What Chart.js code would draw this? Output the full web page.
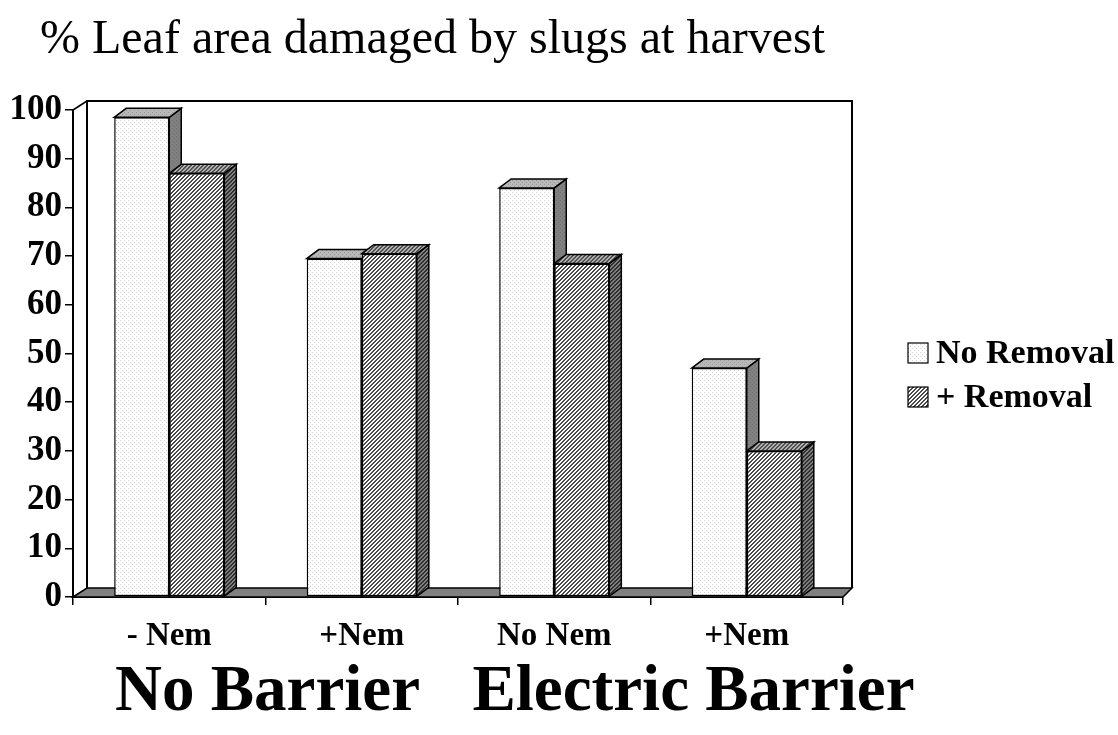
<!DOCTYPE html>
<html>
<head>
<meta charset="utf-8">
<script src="https://cdn.jsdelivr.net/npm/chart.js@4/dist/chart.umd.min.js"></script>
<style>
html,body{margin:0;padding:0;background:#fff;}
canvas{display:block;}
</style>
</head>
<body>
<canvas id="c" width="1118" height="735"></canvas>
<script>
// ---- data ----
const categories = ['- Nem', '+Nem', 'No Nem', '+Nem'];
const seriesNames = ['No Removal', '+ Removal'];
const noRemoval = [98.5, 69.5, 84, 47];
const plusRemoval = [87, 70.5, 68.5, 30];
const groupLabels = ['No Barrier', 'Electric Barrier'];
const yTicks = [0, 10, 20, 30, 40, 50, 60, 70, 80, 90, 100];
const titleText = '% Leaf area damaged by slugs at harvest';

const SERIF = '"Liberation Serif", "Times New Roman", serif';

const ctx0 = document.getElementById('c').getContext('2d');
function pat(bg, fg, kind) {
  const t = document.createElement('canvas');
  t.width = 4; t.height = 4;
  const c = t.getContext('2d');
  c.fillStyle = bg; c.fillRect(0, 0, 4, 4);
  c.fillStyle = fg;
  if (kind === 'dots') {
    c.fillRect(0, 0, 1, 1); c.fillRect(2, 2, 1, 1);
  } else {
    for (let i = 0; i < 4; i++) {
      c.fillRect(i, 3 - i, 1, 1);
      c.fillRect(i, (4 - i) % 4, 1, 1);
    }
  }
  return ctx0.createPattern(t, 'repeat');
}
const styles = [
  { front: pat('#ffffff', '#cfcfcf', 'dots'), top: pat('#b8b8b8', '#9a9a9a', 'dots'), side: pat('#808080', '#707070', 'dots') },
  { front: pat('#ffffff', '#4a4a4a', 'hatch'), top: pat('#b0b0b0', '#505050', 'hatch'), side: pat('#808080', '#303030', 'hatch') }
];

const DX = 12, DY = -9;

const threeD = {
  id: 'threeD',
  beforeDatasetsDraw(chart) {
    const ctx = chart.ctx;
    const a = chart.chartArea;
    ctx.save();
    // back wall
    ctx.strokeStyle = '#000';
    ctx.lineWidth = 2;
    ctx.beginPath();
    ctx.moveTo(a.left + 14, a.bottom - 9);
    ctx.lineTo(a.left + 14, a.top - 9);
    ctx.lineTo(a.right + 9, a.top - 9);
    ctx.lineTo(a.right + 9, a.bottom - 9);
    ctx.stroke();
    // left diagonal edge
    ctx.lineWidth = 1.5;
    ctx.beginPath();
    ctx.moveTo(a.left, a.top); ctx.lineTo(a.left + 14, a.top - 9);
    ctx.stroke();
    // floor
    ctx.fillStyle = '#808080';
    ctx.beginPath();
    ctx.moveTo(a.left, a.bottom);
    ctx.lineTo(a.left + 14, a.bottom - 9);
    ctx.lineTo(a.right + 9, a.bottom - 9);
    ctx.lineTo(a.right, a.bottom);
    ctx.closePath();
    ctx.fill();
    ctx.lineWidth = 1.5;
    ctx.stroke();
    // bar sides & tops, left to right
    const bars = [];
    chart.data.datasets.forEach((ds, di) => {
      chart.getDatasetMeta(di).data.forEach((el) => {
        const p = el.getProps(['x', 'y', 'base', 'width'], true);
        bars.push({ p, di });
      });
    });
    bars.sort((m, n) => m.p.x - n.p.x);
    bars.forEach(({ p, di }) => {
      const l = p.x - p.width / 2, r = p.x + p.width / 2;
      ctx.lineWidth = 1.5;
      ctx.strokeStyle = '#000';
      ctx.fillStyle = styles[di].side;
      ctx.beginPath();
      ctx.moveTo(r, p.y);
      ctx.lineTo(r + DX, p.y + DY);
      ctx.lineTo(r + DX, p.base + DY);
      ctx.lineTo(r, p.base);
      ctx.closePath();
      ctx.fill(); ctx.stroke();
      ctx.fillStyle = styles[di].top;
      ctx.beginPath();
      ctx.moveTo(l, p.y);
      ctx.lineTo(l + DX, p.y + DY);
      ctx.lineTo(r + DX, p.y + DY);
      ctx.lineTo(r, p.y);
      ctx.closePath();
      ctx.fill(); ctx.stroke();
    });
    ctx.restore();
  },
  afterDraw(chart) {
    const ctx = chart.ctx;
    const xs = chart.scales.x;
    ctx.save();
    ctx.fillStyle = '#000';
    // title
    ctx.font = '48px ' + SERIF;
    ctx.textAlign = 'left';
    ctx.textBaseline = 'alphabetic';
    ctx.fillText(titleText, 40, 53);
    // group labels
    ctx.font = 'bold 65px ' + SERIF;
    ctx.textAlign = 'center';
    const g1 = (xs.getPixelForValue(0) + xs.getPixelForValue(1)) / 2 + 2;
    const g2 = (xs.getPixelForValue(2) + xs.getPixelForValue(3)) / 2 + 43;
    ctx.fillText(groupLabels[0], g1, 710);
    ctx.fillText(groupLabels[1], g2, 710);
    // legend
    ctx.font = 'bold 34px ' + SERIF;
    ctx.textAlign = 'left';
    ctx.textBaseline = 'middle';
    seriesNames.forEach((name, i) => {
      const by = 343 + i * 44;
      ctx.fillStyle = styles[i].front;
      ctx.fillRect(908, by, 20, 20);
      ctx.strokeStyle = '#000';
      ctx.lineWidth = 1.2;
      ctx.strokeRect(908, by, 20, 20);
      ctx.fillStyle = '#000';
      ctx.fillText(name, 936, by + 11);
    });
    ctx.restore();
  }
};

new Chart(ctx0, {
  type: 'bar',
  data: {
    labels: categories,
    datasets: [
      { label: seriesNames[0], data: noRemoval, backgroundColor: styles[0].front, borderColor: '#000', borderWidth: 1.5, borderSkipped: false },
      { label: seriesNames[1], data: plusRemoval, backgroundColor: styles[1].front, borderColor: '#000', borderWidth: 1.5, borderSkipped: false }
    ]
  },
  options: {
    responsive: false,
    animation: false,
    devicePixelRatio: 1,
    layout: { padding: { left: 0, top: 110, right: 275, bottom: 0 } },
    plugins: { legend: { display: false }, title: { display: false }, tooltip: { enabled: false } },
    datasets: { bar: { categoryPercentage: 0.572, barPercentage: 1 } },
    scales: {
      x: {
        afterFit(s) { s.height = 138; },
        grid: { offset: true, drawOnChartArea: false, drawTicks: true, tickLength: 8, color: '#000', lineWidth: 1.5 },
        border: { display: true, color: '#000', width: 2 },
        ticks: { color: '#000', padding: 12, font: { family: SERIF, size: 33, weight: 'bold' }, maxRotation: 0 }
      },
      y: {
        min: 0, max: 100,
        afterFit(s) { s.width = 73; },
        afterBuildTicks(s) { s.ticks = yTicks.map(v => ({ value: v })); },
        grid: { drawOnChartArea: false, drawTicks: true, tickLength: 8, color: '#000', lineWidth: 1.5 },
        border: { display: true, color: '#000', width: 2 },
        ticks: { color: '#000', padding: 3, font: { family: SERIF, size: 35, weight: 'bold' } }
      }
    }
  },
  plugins: [threeD]
});
</script>
</body>
</html>
